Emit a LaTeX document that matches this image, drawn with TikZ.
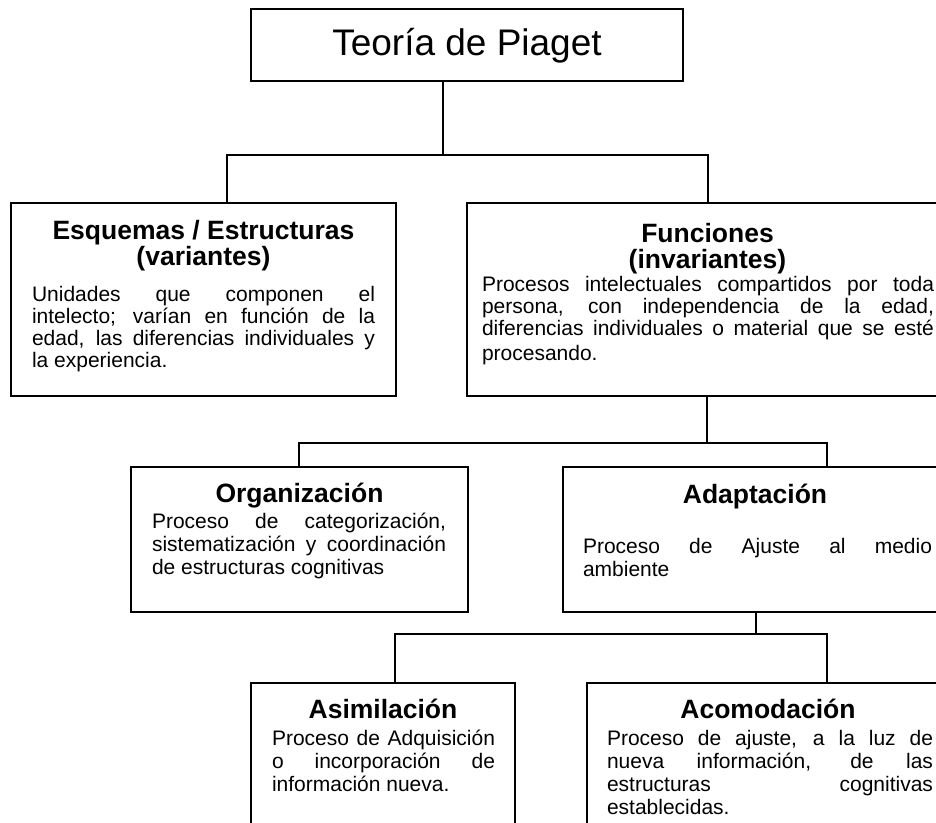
\documentclass[tikz,border=0pt]{standalone}
\usepackage{fontspec}
\setmainfont{Liberation Sans}
\usetikzlibrary{positioning}

\begin{document}
\begin{tikzpicture}[x=1pt,y=-1pt,line width=1.6pt,
        every node/.append style={inner sep=0pt,outer sep=0pt}]
      \tikzstyle{box} = [draw,rectangle,anchor=north west]
      \tikzstyle{titulo} = [anchor=base,font=\fontsize{26.5}{26}\selectfont\bfseries]
      \tikzstyle{texto} = [anchor=base west,font=\fontsize{21}{22}\selectfont]
      \tikzstyle{textoabajo} = [texto,font=\fontsize{21}{23.3}\selectfont]
      \useasboundingbox (0,0) rectangle (936,822);
      \clip (0,0) rectangle (936,822);

      \node (piaget) [box,minimum width=432pt,minimum height=72pt,
        font=\fontsize{37}{40}\selectfont,text height=27pt,text depth=7pt] at (251,9) {Teoría de Piaget};

      \node (esq) [box,minimum width=385pt,minimum height=193pt] at (11,203) {};
      \node (esqT) [titulo] at (203.5,239) {\parbox[t]{380pt}{\centering Esquemas / Estructuras\\(variantes)}};
      \node (esqB) [texto] at (32,301) {\parbox[t]{343pt}{Unidades que componen el\linebreak
        intelecto; varían en función de la\linebreak edad, las diferencias individuales y\linebreak la experiencia.}};

      \node (fun) [box,minimum width=481pt,minimum height=193pt] at (467,203) {};
      \node (funT) [titulo] at (707.5,242) {\parbox[t]{440pt}{\centering Funciones\\(invariantes)}};
      \node (funB) [texto] at (482,291) {\parbox[t]{452pt}{Procesos intelectuales compartidos por toda\linebreak
        persona, con independencia de la edad,\linebreak diferencias individuales o material que se esté\vspace{3pt}\linebreak procesando.}};

      \node (org) [box,minimum width=337pt,minimum height=145pt] at (131,467) {};
      \node (orgT) [titulo] at (299.5,502) {Organización};
      \node (orgB) [textoabajo] at (152,528) {\parbox[t]{294pt}{Proceso de categorización,\linebreak
        sistematización y coordinación\linebreak de estructuras cognitivas}};

      \node (ada) [box,minimum width=388pt,minimum height=145pt] at (563,467) {};
      \node (adaT) [titulo] at (755,503) {Adaptación};
      \node (adaB) [textoabajo] at (583,553) {\parbox[t]{349pt}{Proceso de Ajuste al medio\linebreak ambiente}};

      \node (asi) [box,minimum width=264pt,minimum height=200pt] at (251,683) {};
      \node (asiT) [titulo] at (383,718) {Asimilación};
      \node (asiB) [textoabajo] at (272,745) {\parbox[t]{223pt}{Proceso de Adquisición\linebreak
        o incorporación de\linebreak información nueva.}};

      \node (aco) [box,minimum width=366pt,minimum height=200pt] at (587,683) {};
      \node (acoT) [titulo] at (768,718) {Acomodación};
      \node (acoB) [textoabajo] at (607,745) {\parbox[t]{326pt}{Proceso de ajuste, a la luz de\linebreak
        nueva información, de las\linebreak estructuras cognitivas\linebreak establecidas.}};

      \coordinate (j1) at (443,155);
      \coordinate (e1) at (227,155);
      \coordinate (f1) at (708,155);
      \draw (piaget.south -| j1) -- (j1);
      \draw (e1 |- esq.north) -- (e1) -- (f1) -- (f1 |- fun.north);

      \coordinate (j2) at (707,443);
      \coordinate (o2) at (299,443);
      \coordinate (a2) at (827,443);
      \draw (fun.south -| j2) -- (j2);
      \draw (o2 |- org.north) -- (o2) -- (a2) -- (a2 |- ada.north);

      \coordinate (j3) at (756,634);
      \coordinate (s3) at (395,634);
      \coordinate (c3) at (827,634);
      \draw (ada.south -| j3) -- (j3);
      \draw (s3 |- asi.north) -- (s3) -- (c3) -- (c3 |- aco.north);
    \end{tikzpicture}
\end{document}
